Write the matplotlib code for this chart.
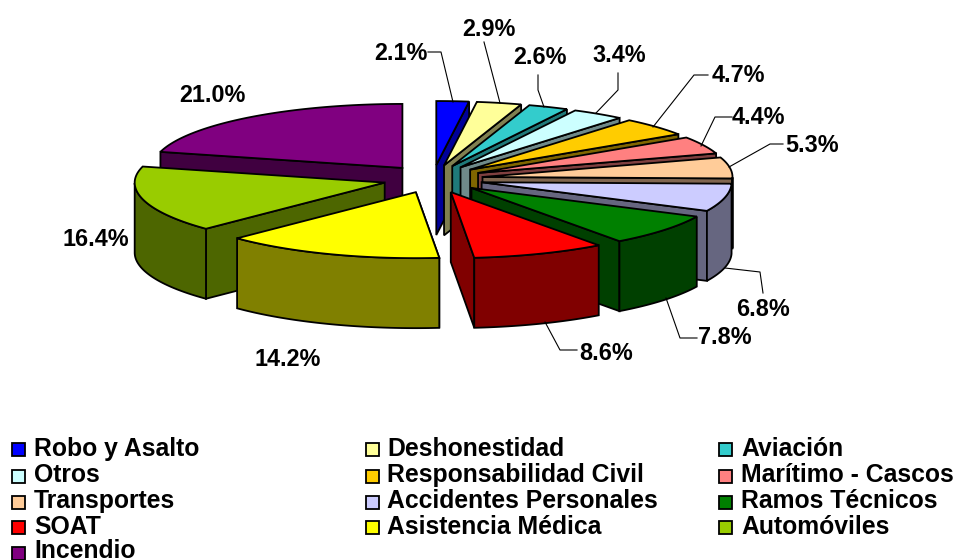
import numpy as np
import matplotlib
matplotlib.use("Agg")
import matplotlib.pyplot as plt
from matplotlib.patches import Polygon, Rectangle

categories = ["Robo y Asalto", "Deshonestidad", "Aviación", "Otros",
              "Responsabilidad Civil", "Marítimo - Cascos", "Transportes",
              "Accidentes Personales", "Ramos Técnicos", "SOAT",
              "Asistencia Médica", "Automóviles", "Incendio"]
values = [2.1, 2.9, 2.6, 3.4, 4.7, 4.4, 5.3, 6.8, 7.8, 8.6, 14.2, 16.4, 21.0]
top_colors = ["#0000FF", "#FFFF99", "#33CCCC", "#CCFFFF", "#FFCC00", "#FF8080",
              "#FFCC99", "#CCCCFF", "#008000", "#FF0000", "#FFFF00", "#99CC00",
              "#800080"]
side_colors = ["#000099", "#808050", "#1F7A7A", "#6F8A8A", "#806600", "#804040",
               "#806650", "#666680", "#004000", "#800000", "#808000", "#4D6600",
               "#400040"]
label_texts = ["2.1%", "2.9%", "2.6%", "3.4%", "4.7%", "4.4%", "5.3%", "6.8%",
               "7.8%", "8.6%", "14.2%", "16.4%", "21.0%"]
label_pos = [(401, 54), (489, 29), (540, 58), (619, 56), (738, 76), (758, 118),
             (812, 145), (763, 309), (725, 338), (606, 353), (288, 359),
             (96, 239), (212, 96)]
leaders = [[(428, 52), (441, 52), (453, 102)],
           [(484, 42), (500, 103)],
           [(538, 75), (538, 90), (544, 107)],
           [(618, 73), (618, 90), (596, 113)],
           [(708, 75), (694, 75), (653, 127)],
           [(732, 117), (715, 117), (701, 146)],
           [(783, 144), (770, 144), (729, 167)],
           [(725, 268), (760, 272), (763, 293)],
           [(666, 298), (680, 338), (697, 338)],
           [(545, 322), (560, 350), (577, 350)]]
legend_swatch_rows = [449, 476, 502, 527, 553]
legend_text_rows = [456, 482, 508, 534, 558]
legend_cols = [(12, 34), (366, 387), (719, 741)]
legend_layout = [(0, 0), (1, 0), (2, 0), (0, 1), (1, 1), (2, 1), (0, 2), (1, 2),
                 (2, 2), (0, 3), (1, 3), (2, 3), (0, 4)]

CX, CY = 433.0, 179.0
EX, EY = 50.0, 14.0
RX, RY_BACK, RY_FRONT = 250.0, 64.0, 66.0
DEPTH = 70.0
LW = 1.3
FONT = "Liberation Sans"

fig = plt.figure(figsize=(9.56, 5.6), dpi=100)
ax = fig.add_axes([0, 0, 1, 1])
ax.set_xlim(0, 956)
ax.set_ylim(560, 0)
ax.axis("off")

total = sum(values)
edges = np.concatenate([[0], np.cumsum(values)]) / total * 2 * np.pi


def project(tip, a):
    a = np.asarray(a)
    c = np.cos(a)
    return tip[0] + RX * np.sin(a), tip[1] - np.where(c > 0, RY_BACK, RY_FRONT) * c


def poly(xy, fc, z):
    ax.add_patch(Polygon(xy, closed=True, facecolor=fc, edgecolor="black",
                         linewidth=LW, joinstyle="miter", zorder=z))


# painter's order: back-left first, then clockwise down the right, then left front
order = [12] + list(range(0, 10)) + [11, 10]
for z, i in enumerate(order):
    a0, a1 = edges[i], edges[i + 1]
    mid = (a0 + a1) / 2
    tip = (CX + EX * np.sin(mid), CY - EY * np.cos(mid))
    arc = np.linspace(a0, a1, 60)
    ax_, ay_ = project(tip, arc)
    base = 10 + z * 3
    # radial cut face that faces the viewer
    edge_a = a1 if mid < np.pi else a0
    ex, ey = project(tip, edge_a)
    poly([(ex, ey), tip, (tip[0], tip[1] + DEPTH), (ex, ey + DEPTH)],
         side_colors[i], base)
    # outer rim on the front half
    front = arc[np.cos(arc) < 0]
    if len(front) > 1:
        fx, fy = project(tip, front)
        rim = list(zip(fx, fy)) + list(zip(fx[::-1], fy[::-1] + DEPTH))
        poly(rim, side_colors[i], base + 1)
    # top
    poly([tip] + list(zip(ax_, ay_)), top_colors[i], base + 2)

for pts in leaders:
    xs, ys = zip(*pts)
    ax.plot(xs, ys, color="black", lw=0.8, zorder=100)

for t, (x, y) in zip(label_texts, label_pos):
    ax.text(x, y, t, ha="center", va="center", family=FONT, weight="bold",
            fontsize=16.8, color="black", zorder=101)

for name, color, (c, r) in zip(categories, top_colors, legend_layout):
    sx, tx = legend_cols[c]
    ax.add_patch(Rectangle((sx, legend_swatch_rows[r] - 6.5), 13, 13,
                           facecolor=color, edgecolor="black", linewidth=LW,
                           zorder=100))
    ax.text(tx, legend_text_rows[r], name, ha="left", va="baseline", family=FONT,
            weight="bold", fontsize=17.8, color="black", zorder=101)

fig.savefig("out.png", dpi=100, facecolor="white")
